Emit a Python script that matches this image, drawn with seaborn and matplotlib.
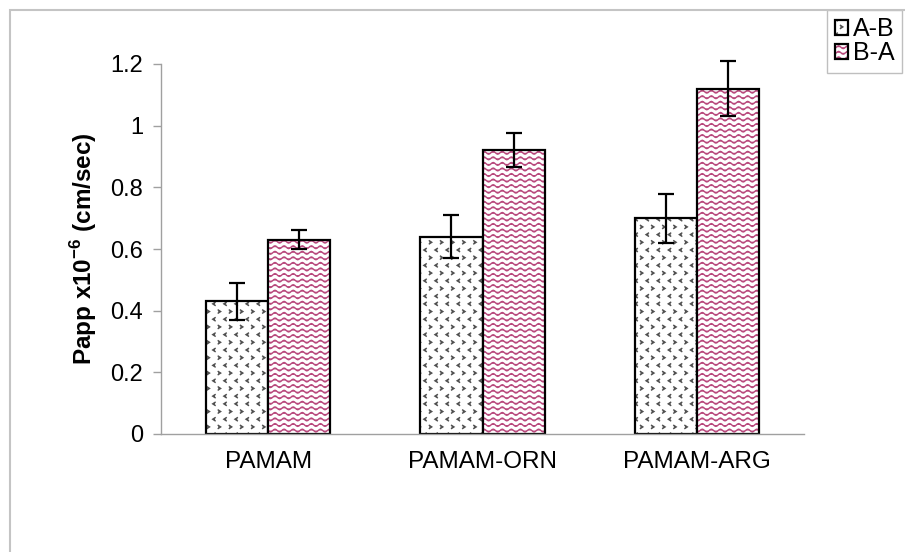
import warnings
import numpy as np
import pandas as pd
import matplotlib
matplotlib.use("Agg")
import matplotlib.pyplot as plt
import matplotlib.hatch as mhatch
from matplotlib.path import Path
from matplotlib.patches import Rectangle
import seaborn as sns

warnings.filterwarnings("ignore")

# data
groups = ["PAMAM", "PAMAM-ORN", "PAMAM-ARG"]
directions = ["A-B", "B-A"]
ab_vals = [0.43, 0.64, 0.70]
ab_err = [0.06, 0.07, 0.08]
ba_vals = [0.63, 0.92, 1.12]
ba_err = [0.03, 0.055, 0.09]
yticks = [0, 0.2, 0.4, 0.6, 0.8, 1, 1.2]


# custom hatches: wavy lines ('~') and small chevrons ('^')
class WaveHatch(mhatch.HatchPatternBase):
    def __init__(self, hatch, density):
        self.num_lines = int(hatch.count("~") * density)
        self.pts = 89
        self.num_vertices = self.num_lines * self.pts

    def set_vertices_and_codes(self, vertices, codes):
        xs = np.linspace(0, 1, self.pts)
        ys = (np.arange(self.num_lines) + 0.5) / self.num_lines
        for i, y in enumerate(ys):
            sl = slice(i * self.pts, (i + 1) * self.pts)
            vertices[sl, 0] = xs
            vertices[sl, 1] = y + 0.014 * np.sin(2 * np.pi * 11 * xs)
            codes[sl] = Path.LINETO
            codes[i * self.pts] = Path.MOVETO


class ChevronHatch(mhatch.HatchPatternBase):
    def __init__(self, hatch, density):
        n = hatch.count("^")
        self.rows = 13 * n
        self.cols = 9 * n
        self.num_vertices = self.rows * self.cols * 3 if n else 0

    def set_vertices_and_codes(self, vertices, codes):
        s = 0.012
        k = 0
        for r in range(self.rows):
            y = (r + 0.5) / self.rows
            off = 0.5 if r % 2 else 0.0
            d = -1 if r % 2 == 0 else 1
            for c in range(self.cols):
                x = (c + 0.25 + off) / self.cols
                vertices[k] = (x - d * s, y + s * 1.3)
                vertices[k + 1] = (x + d * s, y)
                vertices[k + 2] = (x - d * s, y - s * 1.3)
                codes[k] = Path.MOVETO
                codes[k + 1] = Path.LINETO
                codes[k + 2] = Path.LINETO
                k += 3


mhatch._hatch_types.append(WaveHatch)
mhatch._hatch_types.append(ChevronHatch)

sns.set_theme(style="white")
plt.rcParams["font.family"] = ["Liberation Sans", "DejaVu Sans"]
plt.rcParams["mathtext.fontset"] = "custom"
plt.rcParams["mathtext.bf"] = "Liberation Sans:bold"
plt.rcParams["mathtext.rm"] = "Liberation Sans:bold"
plt.rcParams["hatch.linewidth"] = 1.0
plt.rcParams["text.color"] = "black"
plt.rcParams["axes.labelcolor"] = "black"
plt.rcParams["xtick.labelcolor"] = "black"
plt.rcParams["ytick.labelcolor"] = "black"

df = pd.DataFrame({
    "group": groups * 2,
    "direction": ["A-B"] * 3 + ["B-A"] * 3,
    "papp": ab_vals + ba_vals,
})

fig = plt.figure(figsize=(9.05, 5.52), dpi=100)
ax = fig.add_axes([161 / 905, 1 - 434 / 552, (804 - 161) / 905, (434 - 64) / 552])

sns.barplot(data=df, x="group", y="papp", hue="direction", order=groups,
            hue_order=directions, palette=["white", "white"], edgecolor="black",
            linewidth=1.6, width=0.58, errorbar=None, legend=False, ax=ax)

hatches = ["^", "~~~"]
hcolors = ["#505050", "#b8487c"]
errs = [ab_err, ba_err]
vals = [ab_vals, ba_vals]
for cont, h, hc, e, v in zip(ax.containers, hatches, hcolors, errs, vals):
    xs = []
    for bar in cont:
        bar.set_hatch(h)
        bar._hatch_color = matplotlib.colors.to_rgba(hc)
        xs.append(bar.get_x() + bar.get_width() / 2)
    eb = ax.errorbar(xs, v, yerr=e, fmt="none", ecolor="black", elinewidth=1.6,
                     capsize=6, capthick=1.6, zorder=5)
    for art in eb.lines[1] + eb.lines[2]:
        art.set_clip_on(False)

ax.set_xlim(-0.5, 2.5)
ax.set_ylim(0, 1.2)
ax.set_yticks(yticks)
ax.set_yticklabels(["0", "0.2", "0.4", "0.6", "0.8", "1", "1.2"])
ax.set_xticks([-0.5, 0.5, 1.5, 2.5])
ax.set_xticklabels([])
ax.set_xticks([0, 1, 2], minor=True)
ax.set_xticklabels(groups, minor=True)
ax.tick_params(axis="x", which="minor", length=0, pad=12, labelsize=17.5)
ax.tick_params(axis="x", which="major", length=7, color="#a0a0a0", width=1, direction="out")
ax.tick_params(axis="y", length=6, color="#a0a0a0", width=1, direction="out",
               labelsize=17, pad=7, left=True)
ax.set_xlabel("")
ax.set_ylabel(r"Papp x10$^{-6}$ (cm/sec)", fontsize=17.5, fontweight="bold", labelpad=8)
for side in ["top", "right"]:
    ax.spines[side].set_visible(False)
for side in ["left", "bottom"]:
    ax.spines[side].set_color("#a0a0a0")
    ax.spines[side].set_linewidth(1)

# outer chart border
fig.patches.append(Rectangle((10 / 905, -0.1), 1.2, 1.1 - 10 / 552, transform=fig.transFigure,
                             fill=False, edgecolor="#c4c4c4", linewidth=1.5, zorder=0))

leg = ax.legend(handles=list(ax.containers), labels=directions, loc="upper left",
                bbox_to_anchor=(827 / 905, 1 - 10 / 552), bbox_transform=fig.transFigure,
                fontsize=18, frameon=True, fancybox=False, borderaxespad=0,
                handlelength=0.55, handleheight=0.55, handletextpad=0.2,
                labelspacing=0.0, borderpad=0.3)
leg.get_frame().set_edgecolor("#b0b0b0")
leg.get_frame().set_linewidth(1)

fig.savefig("out.png", dpi=100)
